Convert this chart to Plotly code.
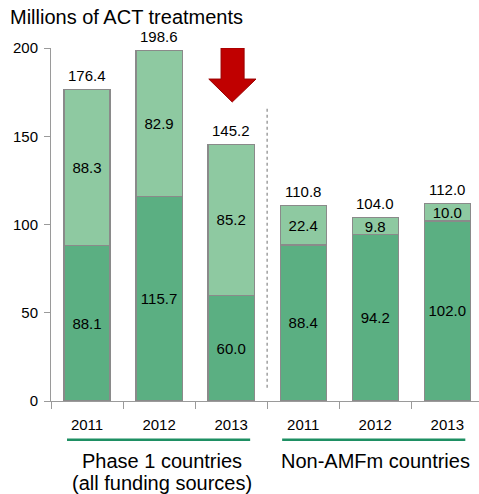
import plotly.graph_objects as go

years = ["2011", "2012", "2013", "2011", "2012", "2013"]
bottom_vals = [88.1, 115.7, 60.0, 88.4, 94.2, 102.0]
top_vals = [88.3, 82.9, 85.2, 22.4, 9.8, 10.0]
totals = [176.4, 198.6, 145.2, 110.8, 104.0, 112.0]
group_lines = [["Phase 1 countries", "(all funding sources)"], ["Non-AMFm countries"]]
group_centers = [1.04, 4.0]

x = list(range(len(years)))
FONT = "Liberation Sans, Arial, sans-serif"
dark = "#5BAF82"
light = "#8EC9A1"
edge = "#8A8A8A"

fig = go.Figure()
for vals, col in [(bottom_vals, dark), (top_vals, light)]:
    fig.add_trace(go.Bar(
        x=x, y=vals, width=0.64,
        marker=dict(color=col, line=dict(color=edge, width=1.2)),
        text=[f"{v:.1f}" for v in vals], textposition="inside",
        insidetextanchor="middle", textangle=0, constraintext="none",
        textfont=dict(family=FONT, size=15, color="black"),
        hoverinfo="skip", showlegend=False,
    ))
for xi, t in zip(x, totals):
    fig.add_annotation(x=xi, y=t, xref="x", yref="y", text=f"{t:.1f}", showarrow=False,
                       yanchor="middle", yshift=14,
                       font=dict(family=FONT, size=15, color="black"))

# red down arrow above 2013 Phase 1 bar
cx = 2
arrow = (f"M {cx-0.14},200 L {cx+0.18},200 L {cx+0.18},182.4 L {cx+0.345},182.4 "
         f"L {cx+0.015},169.4 L {cx-0.31},182.4 L {cx-0.14},182.4 Z")
fig.add_shape(type="path", path=arrow, xref="x", yref="y",
              fillcolor="#C00000", line=dict(color="#9A0000", width=1))

# dashed separator
fig.add_shape(type="line", x0=2.5, x1=2.5, y0=7.5, y1=166, xref="x", yref="y",
              line=dict(color="#A0A0A0", width=1.5, dash="dot"))

# group underlines and labels
for x0, x1 in [(-0.278, 2.264), (2.708, 5.25)]:
    fig.add_shape(type="line", x0=x0, x1=x1, y0=-0.11, y1=-0.11, xref="x", yref="paper",
                  line=dict(color="#1E8F63", width=2.5))
for lines, c in zip(group_lines, group_centers):
    for i, t in enumerate(lines):
        fig.add_annotation(x=c, y=-0.170 - 0.062 * i, xref="x", yref="paper", text=t,
                           showarrow=False, yanchor="middle", xanchor="center",
                           font=dict(family=FONT, size=20, color="black"))

fig.add_annotation(x=0, y=1, xref="paper", yref="paper", xshift=-43, yshift=31,
                   text="Millions of ACT treatments", showarrow=False,
                   xanchor="left", yanchor="middle",
                   font=dict(family=FONT, size=20, color="black"))

fig.update_layout(
    barmode="stack", bargap=0.36,
    width=479, height=494,
    margin=dict(l=51, r=0, t=48, b=93),
    plot_bgcolor="white", paper_bgcolor="white",
    xaxis=dict(range=[-0.5, 5.44], tickvals=x, ticktext=years, ticks="",
               ticklabelstandoff=10,
               showgrid=False, zeroline=False, showline=True, linecolor="#9A9A9A", linewidth=1,
               tickfont=dict(family=FONT, size=15, color="black"),
               minor=dict(tickvals=[-0.5, 0.5, 1.5, 2.5, 3.5, 4.5], ticks="outside",
                          ticklen=7, tickcolor="#9A9A9A", showgrid=False)),
    yaxis=dict(range=[0, 200], tickvals=[0, 50, 100, 150, 200], ticks="outside", ticklen=6,
               ticklabelstandoff=3,
               tickcolor="#9A9A9A", showgrid=False, zeroline=False, showline=True,
               linecolor="#9A9A9A", linewidth=1,
               tickfont=dict(family=FONT, size=15, color="black")),
)

fig.write_html("out.html", config={"displayModeBar": False},
               post_script="document.body.style.margin='0';")
